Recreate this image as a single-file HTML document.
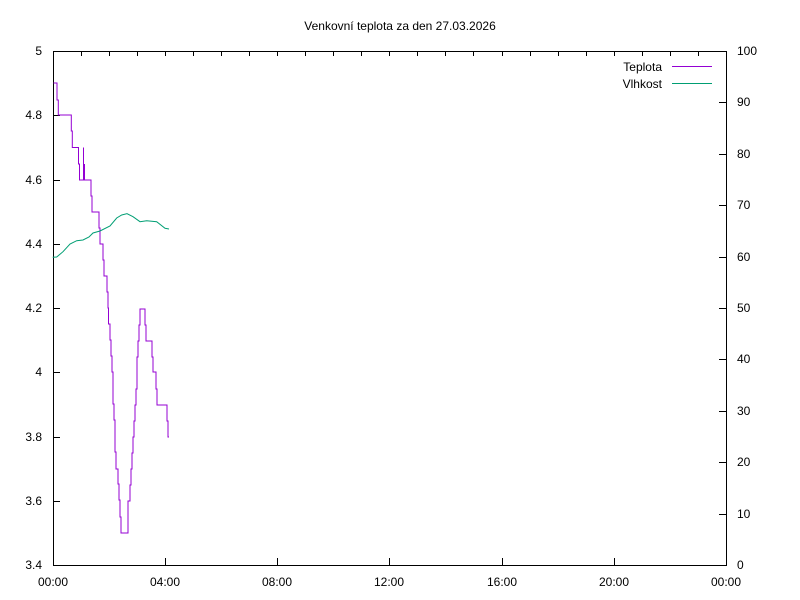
<!DOCTYPE html>
<html><head><meta charset="utf-8"><style>
body{margin:0;background:#fff}
svg{display:block;font-family:"Liberation Sans",sans-serif;font-size:12px;fill:#000}
</style></head><body>
<svg width="800" height="600" viewBox="0 0 800 600" xmlns="http://www.w3.org/2000/svg">
<rect width="800" height="600" fill="#fff"/>
<text x="400" y="30" text-anchor="middle">Venkovní teplota za den 27.03.2026</text>
<g stroke="#000" stroke-width="1" fill="none">
<rect x="53.5" y="51.5" width="673" height="514"/>
<path d="M53 115.5h7M53 180.5h7M53 244.5h7M53 308.5h7M53 372.5h7M53 437.5h7M53 501.5h7"/>
<path d="M726 102.5h-7M726 154.5h-7M726 205.5h-7M726 257.5h-7M726 308.5h-7M726 359.5h-7M726 411.5h-7M726 462.5h-7M726 514.5h-7"/>
<path d="M165.5 565v-7M277.5 565v-7M389.5 565v-7M502.5 565v-7M614.5 565v-7"/>
<path d="M81.5 52v4M109.5 52v4M137.5 52v4M165.5 52v4M193.5 52v4M221.5 52v4M249.5 52v4M277.5 52v4M305.5 52v4M333.5 52v4M361.5 52v4M389.5 52v4M417.5 52v4M445.5 52v4M473.5 52v4M502.5 52v4M530.5 52v4M558.5 52v4M586.5 52v4M614.5 52v4M642.5 52v4M670.5 52v4M698.5 52v4"/>
</g>
<g text-anchor="end">
<text x="42" y="55">5</text><text x="42" y="119">4.8</text><text x="42" y="184">4.6</text><text x="42" y="248">4.4</text><text x="42" y="312">4.2</text><text x="42" y="376">4</text><text x="42" y="441">3.8</text><text x="42" y="505">3.6</text><text x="42" y="569">3.4</text>
</g>
<g text-anchor="start">
<text x="737" y="55">100</text><text x="737" y="106">90</text><text x="737" y="158">80</text><text x="737" y="209">70</text><text x="737" y="261">60</text><text x="737" y="312">50</text><text x="737" y="363">40</text><text x="737" y="415">30</text><text x="737" y="466">20</text><text x="737" y="518">10</text><text x="737" y="569">0</text>
</g>
<g text-anchor="middle">
<text x="53" y="586">00:00</text><text x="165" y="586">04:00</text><text x="277" y="586">08:00</text><text x="389" y="586">12:00</text><text x="502" y="586">16:00</text><text x="614" y="586">20:00</text><text x="726" y="586">00:00</text>
</g>
<text x="662" y="71" text-anchor="end">Teplota</text>
<text x="662" y="88" text-anchor="end">Vlhkost</text>
<path d="M672 66.5h40" stroke="#9400d3" stroke-width="1"/>
<path d="M672 83.5h40" stroke="#009e73" stroke-width="1"/>
<path fill="none" stroke="#9400d3" stroke-width="1" d="M53.5 83H57V100H58.3V115H71.3V131H72.3V147.5H78.5V164H79.5V180H83.5V147.5V180H84.5V164V180H91V196H92V212H99V228H100V244H103V260H104V276H107V292H108V308H108.5V324H110V340H111V356H112V372H113V404H114V420H115V452H116V469H118V484H119V500H120V517H121V533H128V501H130V485H131V469H132V453H133V437H134V421H135V405H136V389H137V357H138V341H139V325H140V309H145V325H146V341H152V357H153V372H156V389H157V405H167V421H168V437H169"/>
<polyline fill="none" stroke="#009e73" stroke-width="1" points="52.7,257.3 56.7,257 63,251.7 70,244 76.7,240.7 83,240 89,237 93,233 100,231 110,226 116.7,218 121.7,215 127,213.7 133,216.7 140,221.7 146.7,220.7 156.7,221.7 165,228.3 169,229"/>
</svg>
</body></html>
